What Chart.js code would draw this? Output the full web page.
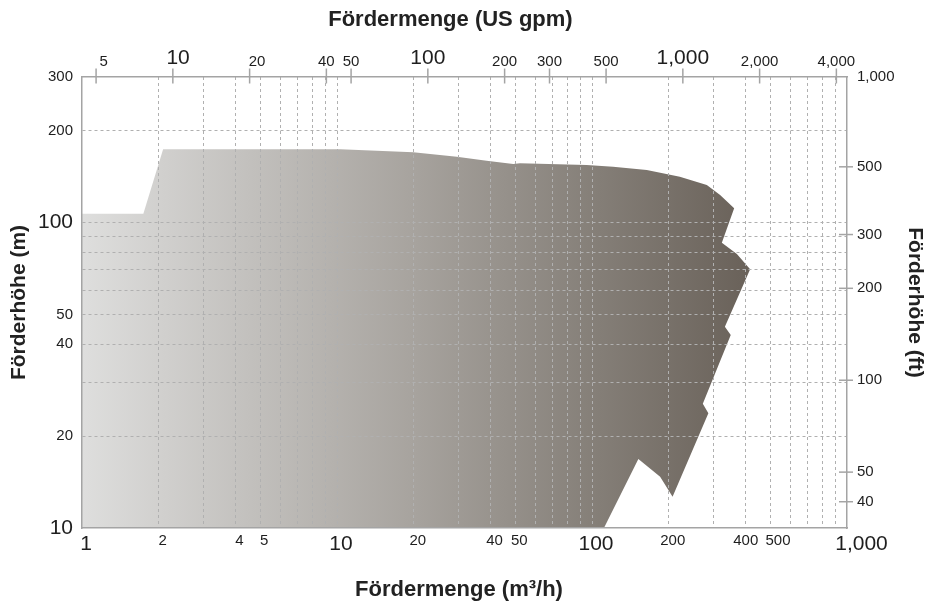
<!DOCTYPE html>
<html>
<head>
<meta charset="utf-8">
<script src="https://cdn.jsdelivr.net/npm/chart.js@4"></script>
<style>
  html, body { margin: 0; padding: 0; background: #fff; }
  canvas { display: block; }
</style>
</head>
<body>
<canvas id="c" width="930" height="607"></canvas>
<script>
// ---- Data ----
// Outline of the operating range, flow in m³/h and head in m, drawn clockwise
const outlineFlow = [1, 1, 1.74, 2.08, 10.3, 19.9, 29.5, 38.6, 49.1, 52.2, 95.3, 121, 164, 221, 282, 318, 361, 323, 370, 417, 332, 350, 272, 286, 207, 185, 152, 111.4];
const outlineHead = [10, 107, 107, 174, 174, 170, 164.5, 159.6, 155.7, 156.5, 154.5, 152.6, 148.8, 141.5, 132.9, 123.2, 111.5, 86, 79, 70.4, 45.6, 42.9, 25.5, 23.75, 12.66, 14.72, 16.83, 10];

// Axis ranges
const flowRange = [1, 1000];          // m³/h
const headRange = [10, 300];          // m
const M3H_TO_GPM = 4.402868;
const M_TO_FT = 3.28084;

// Tick values
const flowGrid = [1,2,3,4,5,6,7,8,9,10,20,30,40,50,60,70,80,90,100,200,300,400,500,600,700,800,900,1000];
const flowLabelsBig = [1, 10, 100, 1000];
const flowLabelsSmall = [2, 4, 5, 20, 40, 50, 200, 400, 500];
const headGrid = [10,20,30,40,50,60,70,80,90,100,200,300];
const headLabelsBig = [10, 100];
const headLabelsSmall = [20, 40, 50, 200, 300];
const gpmTicks = [5, 10, 20, 40, 50, 100, 200, 300, 500, 1000, 2000, 4000];
const gpmLabelsBig = [10, 100, 1000];
const ftTicks = [40, 50, 100, 200, 300, 500];
const ftTopLabel = '1,000';

// ---- Styles ----
const FONT = "'Liberation Sans', Arial, Helvetica, sans-serif";
const TEXT = '#1e1e1e';
const BORDER = '#a4a4a4';
const GRID = '#b0b0b0';

const fmt = v => Math.round(v).toLocaleString('en-US');
const near = (a, b) => Math.abs(a - b) / b < 1e-6;

// small whitespace nudges so labels sit where the reference puts them
const bottomLabel = v => {
  if (v === 1000) return '\u2003' + fmt(v);
  if (v === 400) return fmt(v) + '\u2002';
  if (v === 500) return '\u2002' + fmt(v);
  return (flowLabelsBig.includes(v) || flowLabelsSmall.includes(v)) ? fmt(v) : '';
};
const topLabel = v => {
  if (v === 5 || v === 20) return '\u2003' + fmt(v);
  if (v === 10) return '\u2002' + fmt(v);
  return fmt(v);
};

const points = outlineFlow.map((x, i) => ({ x, y: outlineHead[i] }));

// Cross tick marks on the secondary axes (positions from the library's scales)
const crossTicks = {
  id: 'crossTicks',
  afterDraw(chart) {
    const c = chart.ctx;
    const area = chart.chartArea;
    c.save();
    c.strokeStyle = BORDER;
    c.lineWidth = 1.5;
    const sx = chart.scales.x2;
    sx.ticks.forEach(t => {
      const px = sx.getPixelForValue(t.value);
      c.beginPath(); c.moveTo(px, area.top - 8.5); c.lineTo(px, area.top + 6.5); c.stroke();
    });
    const sy = chart.scales.y2;
    sy.ticks.forEach(t => {
      if (t.label === ftTopLabel) return;
      const py = sy.getPixelForValue(t.value);
      c.beginPath(); c.moveTo(area.right - 8, py); c.lineTo(area.right + 6, py); c.stroke();
    });
    c.restore();
  }
};

const gradientFill = (context) => {
  const chart = context.chart;
  const area = chart.chartArea;
  if (!area) return '#aaa';
  const xs = chart.scales.x;
  const x1 = xs.getPixelForValue(400);
  const g = chart.ctx.createLinearGradient(area.left, 0, x1, 0);
  g.addColorStop(0, '#dededd');
  g.addColorStop(0.5, '#a7a39e');
  g.addColorStop(0.78, '#847e77');
  g.addColorStop(1, '#6a625a');
  return g;
};

const gridColor = range => c =>
  (c.tick && (near(c.tick.value, range[0]) || near(c.tick.value, range[1]))) ? 'rgba(0,0,0,0)' : GRID;

new Chart(document.getElementById('c'), {
  type: 'scatter',
  data: {
    datasets: [{
      data: points,
      showLine: true,
      fill: 'shape',
      tension: 0,
      borderWidth: 0,
      borderColor: 'rgba(0,0,0,0)',
      pointRadius: 0,
      backgroundColor: gradientFill
    }]
  },
  plugins: [crossTicks],
  options: {
    responsive: false,
    animation: false,
    devicePixelRatio: 1,
    layout: { padding: 0 },
    plugins: { legend: { display: false }, tooltip: { enabled: false } },
    scales: {
      x: {
        type: 'logarithmic', position: 'bottom', min: flowRange[0], max: flowRange[1],
        afterBuildTicks: s => { s.ticks = flowGrid.map(v => ({ value: v })); },
        afterFit: s => { s.height = 79; },
        grid: { z: 1, drawTicks: false, color: gridColor(flowRange), lineWidth: 1 },
        border: { display: true, color: BORDER, width: 1.5, dash: [3, 3], z: 2 },
        ticks: {
          autoSkip: false, maxRotation: 0, padding: 4, labelOffset: 4, color: TEXT,
          callback: bottomLabel,
          font: c => ({ family: FONT, size: (c.tick && flowLabelsBig.includes(c.tick.value)) ? 21 : 15 })
        },
        title: {
          display: true, text: 'Fördermenge (m³/h)\u2002', color: '#222',
          font: { family: FONT, size: 22, weight: 'bold' }, padding: { top: 0, bottom: 4 }
        }
      },
      x2: {
        type: 'logarithmic', position: 'top', min: flowRange[0] * M3H_TO_GPM, max: flowRange[1] * M3H_TO_GPM,
        afterBuildTicks: s => { s.ticks = gpmTicks.map(v => ({ value: v })); },
        afterFit: s => { s.height = 77; },
        grid: { drawOnChartArea: false, drawTicks: false },
        border: { display: true, color: BORDER, width: 1.5, z: 2 },
        ticks: {
          autoSkip: false, maxRotation: 0, padding: 6, color: TEXT,
          callback: topLabel,
          font: c => ({ family: FONT, size: (c.tick && gpmLabelsBig.includes(c.tick.value)) ? 21 : 15 })
        },
        title: {
          display: true, text: 'Fördermenge (US gpm)\u2003 ', color: '#222',
          font: { family: FONT, size: 22, weight: 'bold' }, padding: { top: 7, bottom: 0 }
        }
      },
      y: {
        type: 'logarithmic', position: 'left', min: headRange[0], max: headRange[1],
        afterBuildTicks: s => { s.ticks = headGrid.map(v => ({ value: v })); },
        afterFit: s => { s.width = 82; },
        grid: { z: 1, drawTicks: false, color: gridColor(headRange), lineWidth: 1 },
        border: { display: true, color: BORDER, width: 1.5, dash: [3, 3], z: 2 },
        ticks: {
          autoSkip: false, padding: 9, color: TEXT,
          callback: v => (headLabelsBig.includes(v) || headLabelsSmall.includes(v)) ? fmt(v) : '',
          font: c => ({ family: FONT, size: (c.tick && headLabelsBig.includes(c.tick.value)) ? 21 : 15 })
        },
        title: {
          display: true, text: 'Förderhöhe (m)', color: '#222',
          font: { family: FONT, size: 21, weight: 'bold' }, padding: { top: 7, bottom: 0 }
        }
      },
      y2: {
        type: 'logarithmic', position: 'right', min: headRange[0] * M_TO_FT, max: headRange[1] * M_TO_FT,
        afterBuildTicks: s => { s.ticks = ftTicks.map(v => ({ value: v })).concat([{ value: headRange[1] * M_TO_FT }]); },
        afterFit: s => { s.width = 83; },
        grid: { drawOnChartArea: false, drawTicks: false },
        border: { display: true, color: BORDER, width: 1.5, z: 2 },
        ticks: {
          autoSkip: false, padding: 10, color: TEXT,
          callback: v => ftTicks.includes(v) ? fmt(v) : ftTopLabel,
          font: { family: FONT, size: 15 }
        },
        title: {
          display: true, text: 'Förderhöhe (ft)', color: '#222',
          font: { family: FONT, size: 21, weight: 'bold' }, padding: { top: 3, bottom: 0 }
        }
      }
    }
  }
});
</script>
</body>
</html>
